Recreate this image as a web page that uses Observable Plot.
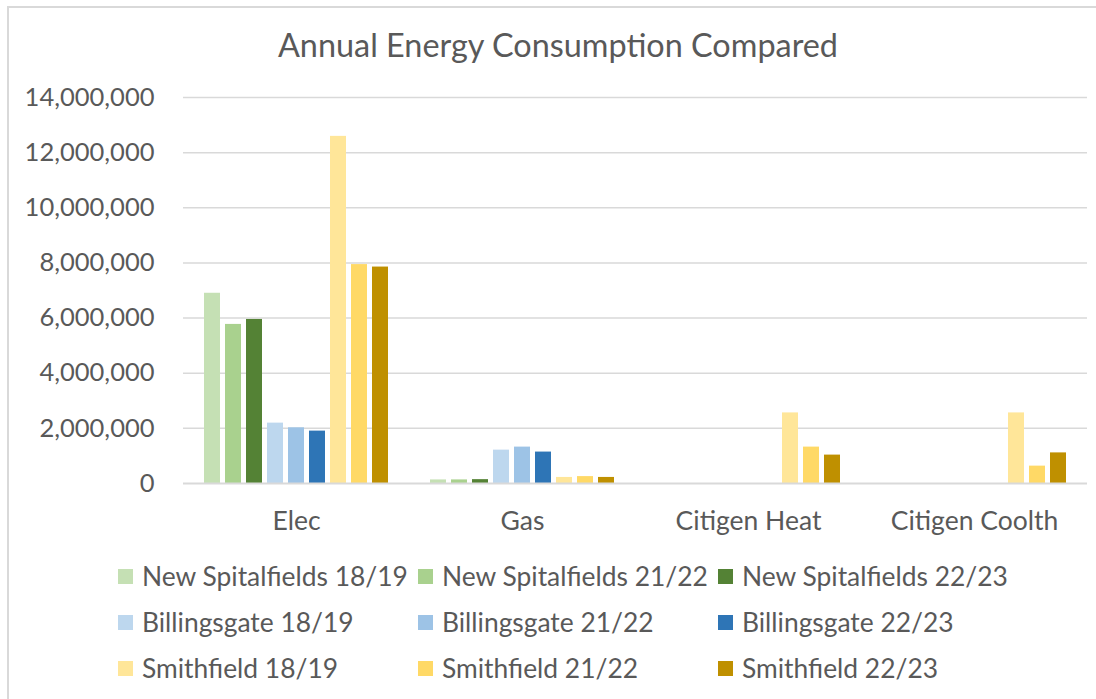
<!DOCTYPE html>
<html>
<head>
<meta charset="utf-8">
<script src="https://cdn.jsdelivr.net/npm/d3@7"></script>
<script src="https://cdn.jsdelivr.net/npm/@observablehq/plot@0.6"></script>
<style>
  html, body { margin: 0; padding: 0; background: #fff; overflow: hidden; }
  #wrap { position: relative; width: 1096px; height: 699px; overflow: hidden; font-family: Lato, sans-serif; color: #595959; }
  #frame { position: absolute; left: 7px; top: 6px; width: 1300px; height: 900px; border-left: 2px solid #d9d9d9; border-top: 2px solid #d9d9d9; box-sizing: border-box; }
  #title { position: absolute; left: 0; width: 1116px; top: 25px; text-align: center; font-size: 32.4px; line-height: 40px; }
  #chart { position: absolute; left: 0; top: 70px; }
  #legend { position: absolute; left: 118px; top: 553px; }
  .row { display: flex; height: 46px; align-items: center; }
  .item { width: 300px; display: flex; align-items: center; font-size: 26.4px; white-space: nowrap; }
  .sw { width: 15px; height: 15px; margin-right: 9px; flex: none; }
</style>
</head>
<body>
<div id="wrap">
  <div id="frame"></div>
  <div id="title">Annual Energy Consumption Compared</div>
  <div id="chart"></div>
  <div id="legend"></div>
</div>
<script>
const categories = ["Elec", "Gas", "Citigen Heat", "Citigen Coolth"];
const series = [
  "New Spitalfields 18/19", "New Spitalfields 21/22", "New Spitalfields 22/23",
  "Billingsgate 18/19", "Billingsgate 21/22", "Billingsgate 22/23",
  "Smithfield 18/19", "Smithfield 21/22", "Smithfield 22/23"
];
const colors = ["#C5E0B4", "#A9D18E", "#548235", "#BDD7EE", "#9DC3E6", "#2E75B6", "#FFE699", "#FFD966", "#BF9000"];
const ns1819 = [6900000, 130000, 0, 0];
const ns2122 = [5770000, 130000, 0, 0];
const ns2223 = [5950000, 140000, 0, 0];
const bg1819 = [2190000, 1210000, 0, 0];
const bg2122 = [2020000, 1320000, 0, 0];
const bg2223 = [1900000, 1140000, 0, 0];
const sm1819 = [12590000, 220000, 2560000, 2560000];
const sm2122 = [7940000, 250000, 1320000, 630000];
const sm2223 = [7850000, 220000, 1030000, 1110000];
const yTicks = [0, 2000000, 4000000, 6000000, 8000000, 10000000, 12000000, 14000000];

const valueLists = [ns1819, ns2122, ns2223, bg1819, bg2122, bg2223, sm1819, sm2122, sm2223];
const data = [];
series.forEach((s, i) => {
  categories.forEach((c, j) => {
    data.push({category: c, series: s, value: valueLists[i][j]});
  });
});

const chart = Plot.plot({
  width: 1096,
  height: 480,
  marginTop: 27,
  marginBottom: 67,
  marginLeft: 183,
  marginRight: 9,
  style: {fontFamily: "Lato, sans-serif", fontSize: "26.5px", color: "#595959", background: "transparent"},
  fx: {domain: categories, paddingInner: 0, paddingOuter: 0, label: null, axis: null},
  x: {domain: series, paddingInner: 0.217, paddingOuter: 0.81, axis: null},
  y: {domain: [0, 14000000], axis: null},
  color: {domain: series, range: colors},
  marks: [
    Plot.ruleY(yTicks.slice(1), {stroke: "#d9d9d9", strokeWidth: 1.5}),
    Plot.barY(data, {fx: "category", x: "series", y: "value", fill: "series"}),
    Plot.ruleY([0], {stroke: "#d9d9d9", strokeWidth: 2}),
    Plot.axisY({ticks: yTicks, tickFormat: d3.format(","), tickSize: 0, tickPadding: 29, label: null, fontSize: 25.5}),
    Plot.axisFx({anchor: "bottom", tickSize: 0, tickPadding: 28, label: null, fontSize: 26.5})
  ]
});
document.getElementById("chart").appendChild(chart);

const legend = document.getElementById("legend");
for (let r = 0; r < 3; r++) {
  const row = document.createElement("div");
  row.className = "row";
  for (let c = 0; c < 3; c++) {
    const i = r * 3 + c;
    const item = document.createElement("div");
    item.className = "item";
    const sw = document.createElement("span");
    sw.className = "sw";
    sw.style.background = colors[i];
    const tx = document.createElement("span");
    tx.textContent = series[i];
    item.appendChild(sw);
    item.appendChild(tx);
    row.appendChild(item);
  }
  legend.appendChild(row);
}
</script>
</body>
</html>
